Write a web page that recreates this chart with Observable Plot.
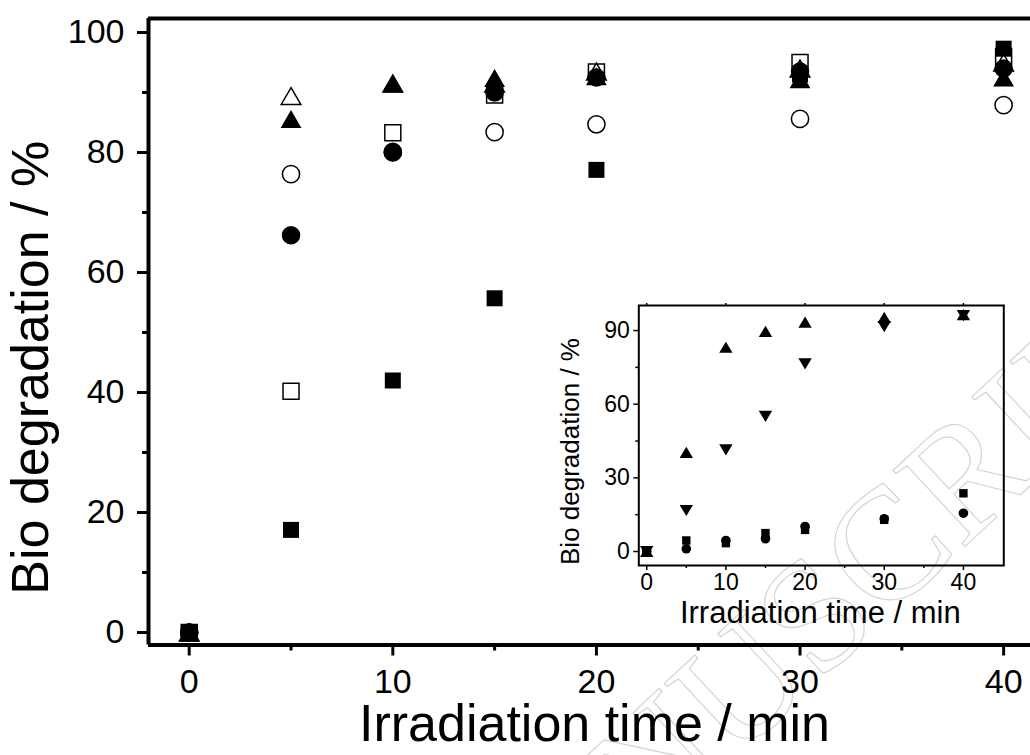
<!DOCTYPE html>
<html><head><meta charset="utf-8">
<script src="https://cdn.jsdelivr.net/npm/d3@7"></script>
<script src="https://cdn.jsdelivr.net/npm/@observablehq/plot@0.6"></script>
<style>
html,body{margin:0;padding:0;background:#fff;overflow:hidden;}
#wrap{position:relative;width:1030px;height:755px;overflow:hidden;}
#wrap svg{position:absolute;left:0;top:0;background:transparent;}
</style></head><body><div id="wrap"></div>
<script>
// ---- main chart data ----
const times = [0, 5, 10, 15, 20, 30, 40];
const filledSquare   = [0, 17.1, 42.0, 55.7, 77.1, 93.0, 97.3];
const openSquare     = [0, 40.2, 83.3, 89.6, 93.4, 95.0, 96.0];
const filledCircle   = [0, 66.2, 80.1, 90.0, 92.5, 93.5, 94.0];
const openCircle     = [0, 76.4, 80.0, 83.4, 84.7, 85.6, 87.9];
const filledTriangle = [0, 85.6, 91.5, 92.4, 92.7, 92.2, 92.5];
const openTriangle   = [0, 89.4, 91.5, 91.5, 93.5, 94.0, 95.0];
const mainXTicks = [0, 10, 20, 30, 40];
const mainXMinor = [5, 15, 25, 35];
const mainYTicks = [0, 20, 40, 60, 80, 100];
const mainYMinor = [10, 30, 50, 70, 90];

// ---- inset data ----
const insetTimes = [0, 5, 10, 15, 20, 30, 40];
const insetUp     = [0, 40.4, 83.2, 89.7, 93.4, 95.4, 96.5];
const insetDown   = [0, 16.7, 41.4, 55.0, 76.4, 91.6, 96.1];
const insetSquare = [0, 4.5, 3.4, 7.5, 8.8, 12.9, 23.7];
const insetCircle = [0, 1.1, 4.5, 5.2, 10.2, 13.3, 15.6];
const insetXTicks = [0, 10, 20, 30, 40];
const insetXMinor = [5, 15, 25, 35];
const insetYTicks = [0, 30, 60, 90];
const insetYMinor = [15, 45, 75];

const xLabel = "Irradiation time / min";
const yLabel = "Bio degradation / %";
const watermark = "ACCEPTED MANUSCRIPT";

const rows = (xs, ys) => xs.map((t, i) => ({t, v: ys[i]}));

function triangle(w, h, down) {
  return {draw(ctx) {
    if (down) { ctx.moveTo(0, h); ctx.lineTo(w, -h); ctx.lineTo(-w, -h); }
    else { ctx.moveTo(0, -h); ctx.lineTo(w, h); ctx.lineTo(-w, h); }
    ctx.closePath();
  }};
}
function square(s) {
  return {draw(ctx) { ctx.rect(-s, -s, 2 * s, 2 * s); }};
}
function circle(r) {
  return {draw(ctx) { ctx.moveTo(r, 0); ctx.arc(0, 0, r, 0, 2 * Math.PI); ctx.closePath(); }};
}

const FONT = "'Liberation Sans', Arial, sans-serif";
const W = 1030, H = 755;

const main = Plot.plot({
  width: W, height: H,
  marginLeft: 148, marginRight: 0, marginTop: 18, marginBottom: 110.5,
  style: {fontFamily: FONT, background: "transparent", overflow: "visible"},
  x: {domain: [-2, 41.32]},
  y: {domain: [-2.083, 102.33]},
  marks: [
    Plot.text([watermark], {frameAnchor: "top-left", textAnchor: "middle", lineAnchor: "middle", rotate: -43, dx: 337, dy: 905, fontSize: 160, fontFamily: "'Liberation Serif', serif", fill: "none", stroke: "#d4d4d4", strokeWidth: 1.2}),
    Plot.axisX({ticks: mainXMinor, tickSize: 6, strokeWidth: 3, tickFormat: () => "", label: null}),
    Plot.axisX({ticks: mainXTicks, tickSize: 11, tickPadding: 13, strokeWidth: 3, fontSize: 34, label: null}),
    Plot.axisY({ticks: mainYMinor, tickSize: 6, strokeWidth: 3, tickFormat: () => "", label: null}),
    Plot.axisY({ticks: mainYTicks, tickSize: 11, tickPadding: 13, strokeWidth: 3, fontSize: 34, label: null}),
    Plot.ruleX([-2], {strokeWidth: 4}),
    Plot.ruleY([-2.083, 102.33], {strokeWidth: 4}),
    Plot.dot(rows(times, filledSquare), {x: "t", y: "v", symbol: square(8), r: 8, fill: "black"}),
    Plot.dot(rows(times, openSquare), {x: "t", y: "v", symbol: square(8), r: 8, fill: "none", stroke: "black", strokeWidth: 1.5}),
    Plot.dot(rows(times, filledCircle), {x: "t", y: "v", symbol: circle(9.3), r: 9, fill: "black"}),
    Plot.dot(rows(times, openCircle), {x: "t", y: "v", symbol: circle(8.6), r: 9, fill: "none", stroke: "black", strokeWidth: 1.5}),
    Plot.dot(rows(times, filledTriangle), {x: "t", y: "v", symbol: triangle(10.4, 9), r: 9, fill: "black"}),
    Plot.dot(rows(times, openTriangle), {x: "t", y: "v", symbol: triangle(9.8, 8.4), r: 9, fill: "none", stroke: "black", strokeWidth: 1.5}),
    Plot.text([xLabel], {frameAnchor: "bottom", textAnchor: "middle", lineAnchor: "bottom", dx: 5, dy: 96, fontSize: 52}),
    Plot.text([yLabel], {frameAnchor: "left", textAnchor: "middle", lineAnchor: "middle", rotate: -90, dx: -117, dy: 36, fontSize: 52})
  ]
});

const inset = Plot.plot({
  width: W, height: H,
  marginLeft: 638.3, marginRight: 26.7, marginTop: 305, marginBottom: 190,
  style: {fontFamily: FONT, background: "transparent", overflow: "visible"},
  x: {domain: [-1, 45.1]},
  y: {domain: [-5.7, 100.2]},
  marks: [
    Plot.frame({strokeWidth: 2}),
    Plot.axisX({ticks: insetXMinor, tickSize: 3, strokeWidth: 1.5, tickFormat: () => "", label: null}),
    Plot.axisX({ticks: insetXTicks, tickSize: 5, tickPadding: 3, strokeWidth: 1.5, fontSize: 23, label: null}),
    Plot.axisX({anchor: "top", ticks: insetXTicks, tickSize: 3, strokeWidth: 1.5, tickFormat: () => "", label: null}),
    Plot.axisY({ticks: insetYMinor, tickSize: 3, strokeWidth: 1.5, tickFormat: () => "", label: null}),
    Plot.axisY({ticks: insetYTicks, tickSize: 5, tickPadding: 4, strokeWidth: 1.5, fontSize: 23, label: null}),
    Plot.dot(rows(insetTimes, insetSquare), {x: "t", y: "v", symbol: square(4.2), r: 4, fill: "black"}),
    Plot.dot(rows(insetTimes, insetCircle), {x: "t", y: "v", symbol: circle(4.8), r: 5, fill: "black"}),
    Plot.dot(rows(insetTimes, insetUp), {x: "t", y: "v", symbol: triangle(6.7, 5.6), r: 5, fill: "black"}),
    Plot.dot(rows(insetTimes, insetDown), {x: "t", y: "v", symbol: triangle(6.7, 5.6, true), r: 5, fill: "black"}),
    Plot.text([xLabel], {frameAnchor: "bottom", textAnchor: "middle", lineAnchor: "bottom", dx: -1, dy: 57, fontSize: 31}),
    Plot.text([yLabel], {frameAnchor: "left", textAnchor: "middle", lineAnchor: "middle", rotate: -90, dx: -68, dy: 16, fontSize: 26})
  ]
});

const wrap = document.getElementById("wrap");
wrap.appendChild(main);
wrap.appendChild(inset);
</script>
</body></html>
